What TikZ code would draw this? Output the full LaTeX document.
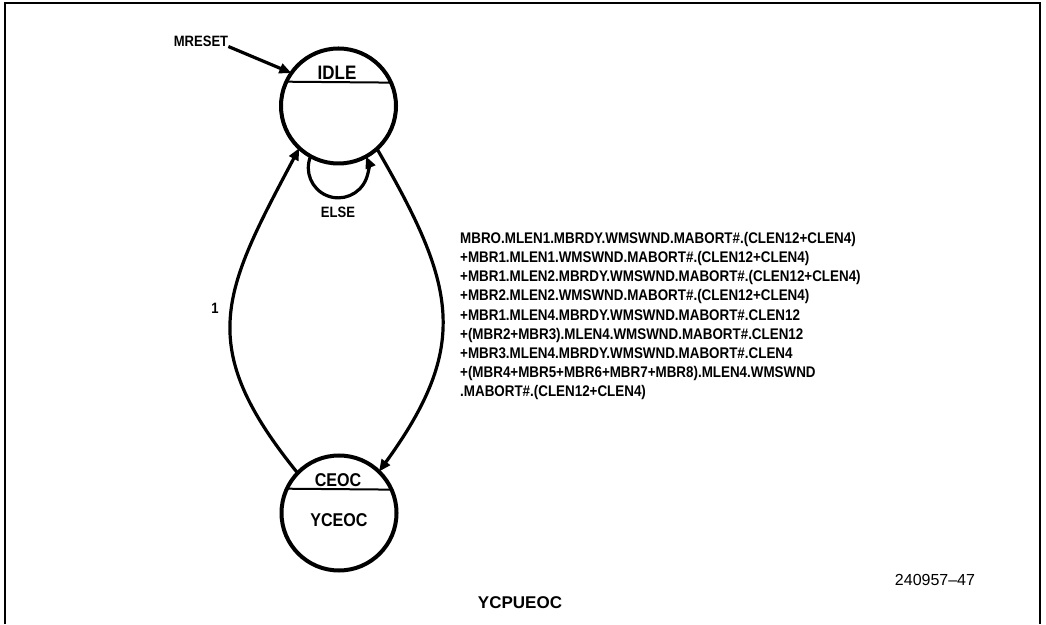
\documentclass[tikz,border=0pt]{standalone}
\usepackage{fontspec}
\setmainfont{Liberation Sans}
\newfontfamily\cnd{Liberation Sans}[FakeStretch=0.87]
\usetikzlibrary{arrows.meta}
\begin{document}
\begin{tikzpicture}[x=1pt,y=1pt,
  state/.style={circle, draw, line width=4pt, minimum size=115pt, inner sep=0pt, outer sep=0pt},
  divider/.style={line width=2pt},
  edge/.style={line width=3.2pt, -{Triangle[length=12pt,width=10pt]}},
  lbl/.style={inner sep=0pt, font=\cnd\bfseries\fontsize{15}{18}\selectfont},
  big/.style={inner sep=0pt, font=\cnd\bfseries\fontsize{18.5}{22}\selectfont}
]
\fill[white] (0,0) rectangle (1046,624);
\useasboundingbox (0,0) rectangle (1046,624);
\draw[line width=2pt] (5,0) -- (5,621) -- (1040,621) -- (1040,0);

\node[state] (idle) at (338.5,518) {};
\node[state] (ceoc) at (339,111) {};
\draw[divider] (idle.24.7) -- (idle.155.3);
\draw[divider] (ceoc.24.7) -- (ceoc.155.3);

\node[big, font=\cnd\bfseries\fontsize{19.5}{22}\selectfont] (idletxt) at (337,551.5) {IDLE};
\node[big] (ceoctxt) at (338,144) {CEOC};
\node[big] (yceoctxt) at (339,104) {YCEOC};

\node[lbl] (mreset) at (201,583) {MRESET};
\draw[edge] (mreset.south east) -- (idle.145);

\draw[edge] (ceoc.136) .. controls (194.4,278.4) and (222.3,331.1) .. (idle.227);
\draw[edge] (idle.312) .. controls (455.5,339.3) and (471.2,279.4) .. (ceoc.46);
\draw[edge] (idle.241.2) arc[start angle=157.3, end angle=382.7, radius=30];

\node[lbl] (one) at (215,316) {1};
\node[lbl] (else) at (338,412) {ELSE};

\node[anchor=north west, inner sep=0pt, align=left,
      font=\cnd\bfseries\fontsize{15.4}{19.2}\selectfont] (cond) at (460,392)
{MBRO.MLEN1.MBRDY.WMSWND.MABORT\#.(CLEN12+CLEN4)\\
+MBR1.MLEN1.WMSWND.MABORT\#.(CLEN12+CLEN4)\\
+MBR1.MLEN2.MBRDY.WMSWND.MABORT\#.(CLEN12+CLEN4)\\
+MBR2.MLEN2.WMSWND.MABORT\#.(CLEN12+CLEN4)\\
+MBR1.MLEN4.MBRDY.WMSWND.MABORT\#.CLEN12\\
+(MBR2+MBR3).MLEN4.WMSWND.MABORT\#.CLEN12\\
+MBR3.MLEN4.MBRDY.WMSWND.MABORT\#.CLEN4\\
+(MBR4+MBR5+MBR6+MBR7+MBR8).MLEN4.WMSWND\\
.MABORT\#.(CLEN12+CLEN4)};

\node[inner sep=0pt, font=\bfseries\fontsize{17}{20}\selectfont] (title) at (520,21) {YCPUEOC};
\node[inner sep=0pt, font=\fontsize{16}{19}\selectfont] (fig) at (935,44) {240957\textendash 47};
\end{tikzpicture}
\end{document}
